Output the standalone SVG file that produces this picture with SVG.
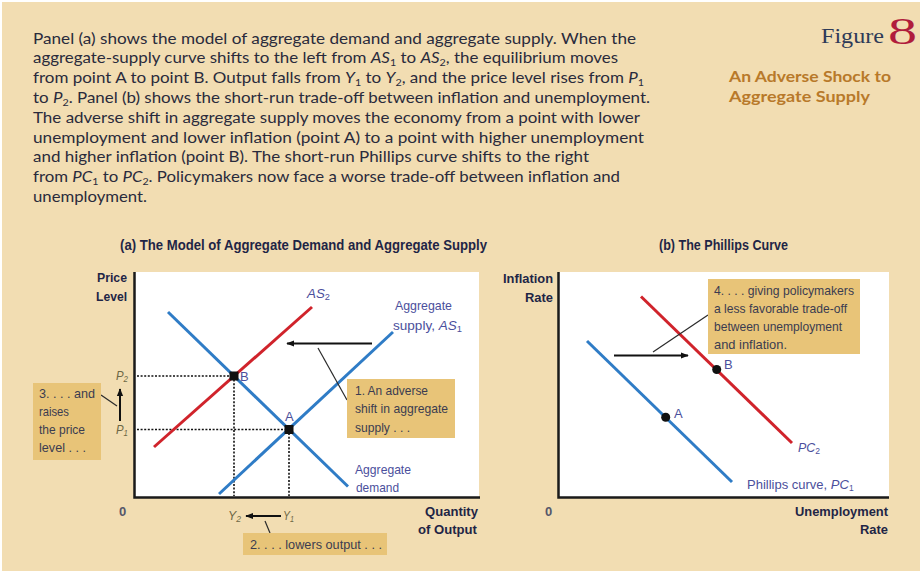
<svg xmlns="http://www.w3.org/2000/svg" width="920" height="571" viewBox="0 0 920 571">
<defs>
<style>
.para{font-family:"Lato","Open Sans",sans-serif;font-size:15px;fill:#2a2b3c}
.it{font-style:italic}
.sub{font-size:9.5px}
.ttl{font-family:"Liberation Sans",Arial,sans-serif;font-weight:bold;font-size:14px;fill:#1f2546}
.ax{font-family:"Liberation Sans",Arial,sans-serif;font-weight:bold;font-size:13px;fill:#1f2546}
.zero{font-family:"Liberation Sans",Arial,sans-serif;font-weight:bold;font-size:13px;fill:#55576a}
.note{font-family:"Liberation Sans",Arial,sans-serif;font-size:13px;fill:#3b3c50}
.lab{font-family:"Liberation Sans",Arial,sans-serif;font-size:13px;fill:#4b4f9c}
.pl{font-family:"Liberation Sans",Arial,sans-serif;font-size:13px;fill:#6d6745;font-style:italic}
.box{fill:#e8c478}
.plot{fill:#ffffff}
.axis{stroke:#1a1a1a;stroke-width:2.5;fill:none}
.blue{stroke:#2f7cc6;stroke-width:3;fill:none}
.red{stroke:#d0232b;stroke-width:3;fill:none}
.dot{stroke:#111;stroke-width:1.6;stroke-dasharray:2 1.6;fill:none}
.lead{stroke:#2a2a2a;stroke-width:1.2;fill:none}
.arr{stroke:#111;stroke-width:2;fill:none}
</style>
<marker id="ah" viewBox="0 0 10 10" refX="9" refY="5" markerWidth="4" markerHeight="4" orient="auto-start-reverse" markerUnits="strokeWidth">
<path d="M0,1 L10,5 L0,9 Z" fill="#111"/>
</marker>
</defs>
<rect x="0" y="0" width="920" height="571" fill="#ffffff"/>
<rect x="2" y="2" width="918" height="569" fill="#f2ddb2"/>

<g id="caption">
<text class="para" x="33" y="43.5" textLength="603" lengthAdjust="spacingAndGlyphs">Panel (a) shows the model of aggregate demand and aggregate supply. When the</text>
<text class="para" x="33" y="63.3" textLength="585" lengthAdjust="spacingAndGlyphs">aggregate-supply curve shifts to the left from <tspan class="it">AS</tspan><tspan class="sub" dy="3">1</tspan><tspan dy="-3"> to </tspan><tspan class="it">AS</tspan><tspan class="sub" dy="3">2</tspan><tspan dy="-3">, the equilibrium moves</tspan></text>
<text class="para" x="33" y="83.1" textLength="611" lengthAdjust="spacingAndGlyphs">from point A to point B. Output falls from <tspan class="it">Y</tspan><tspan class="sub" dy="3">1</tspan><tspan dy="-3"> to </tspan><tspan class="it">Y</tspan><tspan class="sub" dy="3">2</tspan><tspan dy="-3">, and the price level rises from </tspan><tspan class="it">P</tspan><tspan class="sub" dy="3">1</tspan></text>
<text class="para" x="33" y="102.9" textLength="617" lengthAdjust="spacingAndGlyphs">to <tspan class="it">P</tspan><tspan class="sub" dy="3">2</tspan><tspan dy="-3">. Panel (b) shows the short-run trade-off between inflation and unemployment.</tspan></text>
<text class="para" x="33" y="122.7" textLength="607" lengthAdjust="spacingAndGlyphs">The adverse shift in aggregate supply moves the economy from a point with lower</text>
<text class="para" x="33" y="142.5" textLength="611" lengthAdjust="spacingAndGlyphs">unemployment and lower inflation (point A) to a point with higher unemployment</text>
<text class="para" x="33" y="162.3" textLength="556" lengthAdjust="spacingAndGlyphs">and higher inflation (point B). The short-run Phillips curve shifts to the right</text>
<text class="para" x="33" y="182.1" textLength="587" lengthAdjust="spacingAndGlyphs">from <tspan class="it">PC</tspan><tspan class="sub" dy="3">1</tspan><tspan dy="-3"> to </tspan><tspan class="it">PC</tspan><tspan class="sub" dy="3">2</tspan><tspan dy="-3">. Policymakers now face a worse trade-off between inflation and</tspan></text>
<text class="para" x="33" y="201.9" textLength="114" lengthAdjust="spacingAndGlyphs">unemployment.</text>
</g>

<g id="figure-title">
<text x="821" y="43" font-family="Liberation Serif,serif" font-size="22" fill="#2e3a58" textLength="63" lengthAdjust="spacingAndGlyphs">Figure</text>
<text x="888" y="44" font-family="Liberation Serif,serif" font-size="38" fill="#b01c3c" textLength="29" lengthAdjust="spacingAndGlyphs">8</text>
<text x="729" y="82" font-family="Lato,'Open Sans',sans-serif" font-weight="bold" font-size="16" fill="#b8792a" textLength="162" lengthAdjust="spacingAndGlyphs">An Adverse Shock to</text>
<text x="729" y="102" font-family="Lato,'Open Sans',sans-serif" font-weight="bold" font-size="16" fill="#b8792a" textLength="141" lengthAdjust="spacingAndGlyphs">Aggregate Supply</text>
</g>

<g id="panel-a-title"><text class="ttl" x="120" y="250" textLength="367" lengthAdjust="spacingAndGlyphs">(a) The Model of Aggregate Demand and Aggregate Supply</text></g>
<g id="panel-b-title"><text class="ttl" x="659" y="250" textLength="129" lengthAdjust="spacingAndGlyphs">(b) The Phillips Curve</text></g>

<g id="panel-a-plot">
<rect class="plot" x="134" y="272" width="345" height="225"/>
<path class="axis" d="M134.5,272 V497.5 H480"/>
<text class="ax" x="97" y="282" textLength="30" lengthAdjust="spacingAndGlyphs">Price</text>
<text class="ax" x="96" y="301" textLength="31" lengthAdjust="spacingAndGlyphs">Level</text>
<text class="zero" x="119" y="516">0</text>
<text class="ax" x="425" y="516" textLength="53" lengthAdjust="spacingAndGlyphs">Quantity</text>
<text class="ax" x="418" y="534" textLength="59" lengthAdjust="spacingAndGlyphs">of Output</text>
</g>

<g id="panel-b-plot">
<rect class="plot" x="558" y="272" width="331" height="225"/>
<path class="axis" d="M558.5,272 V497.5 H889"/>
<text class="ax" x="503" y="283" textLength="50" lengthAdjust="spacingAndGlyphs">Inflation</text>
<text class="ax" x="525" y="302" textLength="28" lengthAdjust="spacingAndGlyphs">Rate</text>
<text class="zero" x="545" y="516">0</text>
<text class="ax" x="795" y="516" textLength="93" lengthAdjust="spacingAndGlyphs">Unemployment</text>
<text class="ax" x="860" y="534" textLength="28" lengthAdjust="spacingAndGlyphs">Rate</text>
</g>

<g id="connectors">
<path class="dot" d="M137,376 H234 M137,429.5 H289 M234,376 V496 M289,429.5 V496"/>
<path class="blue" d="M168,312 L348,486.5"/>
<path class="blue" d="M219,494 L393,332"/>
<path class="red" d="M154,447 L312,307"/>
<path class="arr" d="M372,343.5 H287" marker-end="url(#ah)"/>
<path class="lead" d="M318,348 L347,400"/>
<path class="arr" d="M120,421 V389" marker-end="url(#ah)"/>
<path class="lead" d="M101,395 L117,406"/>
<path class="arr" d="M281,516 H246" marker-end="url(#ah)"/>
<path class="lead" d="M265,521 L270,533"/>
<path class="blue" d="M587,341 L732,482"/>
<path class="red" d="M641,296.5 L792,443"/>
<path class="arr" d="M614,355.5 H688" marker-end="url(#ah)"/>
<path class="lead" d="M653,352 L708,315"/>
</g>

<g id="point-B-a"><rect x="229.5" y="371.5" width="9" height="9" fill="#111"/><text class="lab" x="240" y="381" fill="#4a6fb0">B</text></g>
<g id="point-A-a"><rect x="284.5" y="425" width="9" height="9" fill="#111"/><text class="lab" x="285" y="421">A</text></g>
<g id="point-A-b"><circle cx="665.7" cy="417.3" r="4.5" fill="#111"/><text class="lab" x="674" y="418">A</text></g>
<g id="point-B-b"><circle cx="716.7" cy="369.5" r="4.5" fill="#111"/><text class="lab" x="724" y="369">B</text></g>

<g id="labels-a">
<text class="lab" x="307" y="298" textLength="23" lengthAdjust="spacingAndGlyphs"><tspan class="it">AS</tspan><tspan font-size="9" dy="2">2</tspan></text>
<text class="lab" x="395" y="310" textLength="57" lengthAdjust="spacingAndGlyphs">Aggregate</text>
<text class="lab" x="393" y="330" textLength="69" lengthAdjust="spacingAndGlyphs">supply, <tspan class="it">AS</tspan><tspan font-size="9" dy="2">1</tspan></text>
<text class="lab" x="355" y="474" textLength="56" lengthAdjust="spacingAndGlyphs">Aggregate</text>
<text class="lab" x="356" y="492" textLength="43" lengthAdjust="spacingAndGlyphs">demand</text>
<text class="pl" x="116" y="380" textLength="12" lengthAdjust="spacingAndGlyphs">P<tspan font-size="9" dy="2">2</tspan></text>
<text class="pl" x="116" y="434" textLength="12" lengthAdjust="spacingAndGlyphs">P<tspan font-size="9" dy="2">1</tspan></text>
<text class="pl" x="228" y="520" textLength="13" lengthAdjust="spacingAndGlyphs">Y<tspan font-size="9" dy="2">2</tspan></text>
<text class="pl" x="283" y="520" textLength="11" lengthAdjust="spacingAndGlyphs">Y<tspan font-size="9" dy="2">1</tspan></text>
</g>

<g id="labels-b">
<text class="lab" x="798" y="452" textLength="22" lengthAdjust="spacingAndGlyphs"><tspan class="it">PC</tspan><tspan font-size="9" dy="2">2</tspan></text>
<text class="lab" x="747" y="489" font-size="12">Phillips curve, <tspan class="it">PC</tspan><tspan font-size="8.5" dy="2">1</tspan></text>
</g>

<g id="note-1">
<rect class="box" x="347" y="379" width="108" height="59"/>
<text class="note" x="355" y="395" textLength="73" lengthAdjust="spacingAndGlyphs">1. An adverse</text>
<text class="note" x="355" y="413" textLength="93" lengthAdjust="spacingAndGlyphs">shift in aggregate</text>
<text class="note" x="355" y="432" textLength="55" lengthAdjust="spacingAndGlyphs">supply . . .</text>
</g>

<g id="note-2">
<rect class="box" x="243" y="533" width="144" height="22"/>
<text class="note" x="250" y="548.5" textLength="132" lengthAdjust="spacingAndGlyphs">2. . . . lowers output . . .</text>
</g>

<g id="note-3">
<rect class="box" x="33" y="383" width="68" height="77"/>
<text class="note" x="39" y="398" textLength="56" lengthAdjust="spacingAndGlyphs">3. . . . and</text>
<text class="note" x="39" y="416" textLength="30" lengthAdjust="spacingAndGlyphs">raises</text>
<text class="note" x="39" y="434" textLength="46" lengthAdjust="spacingAndGlyphs">the price</text>
<text class="note" x="39" y="452" textLength="47" lengthAdjust="spacingAndGlyphs">level . . .</text>
</g>

<g id="note-4">
<rect class="box" x="708" y="279" width="152" height="75"/>
<text class="note" x="714" y="295" textLength="140" lengthAdjust="spacingAndGlyphs">4. . . . giving policymakers</text>
<text class="note" x="714" y="313" textLength="133" lengthAdjust="spacingAndGlyphs">a less favorable trade-off</text>
<text class="note" x="714" y="331" textLength="128" lengthAdjust="spacingAndGlyphs">between unemployment</text>
<text class="note" x="714" y="349" textLength="73" lengthAdjust="spacingAndGlyphs">and inflation.</text>
</g>
</svg>
